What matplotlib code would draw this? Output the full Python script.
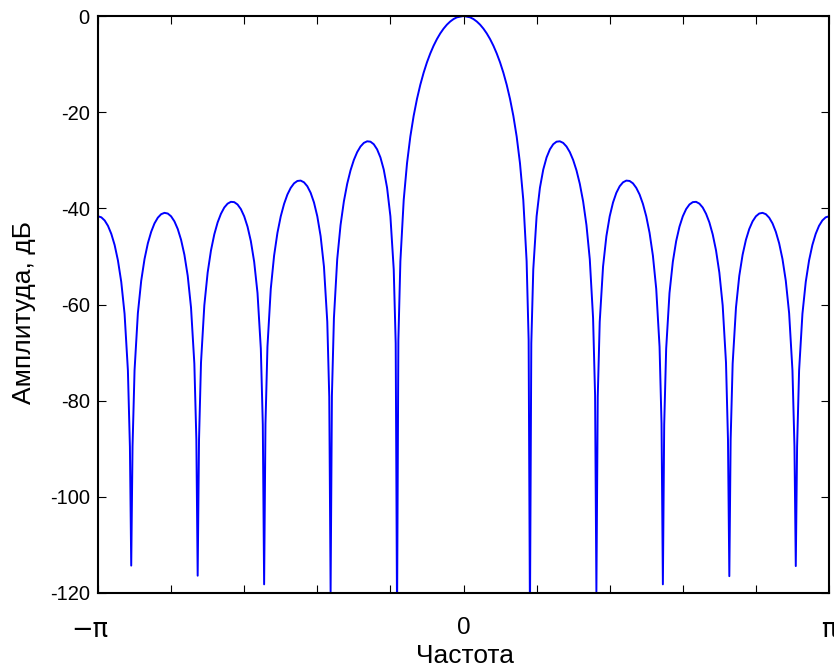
import matplotlib
matplotlib.use("Agg")
import matplotlib.pyplot as plt

# Frequency in units of pi, amplitude in dB
freq_neg = [-1.0000, -0.9818, -0.9636, -0.9455, -0.9273, -0.9182, -0.9127, -0.9091,
            -0.9055, -0.9000, -0.8909, -0.8727, -0.8545, -0.8364, -0.8182, -0.8000,
            -0.7818, -0.7636, -0.7455, -0.7364, -0.7309, -0.7273, -0.7236, -0.7182,
            -0.7091, -0.6909, -0.6727, -0.6545, -0.6364, -0.6182, -0.6000, -0.5818,
            -0.5636, -0.5545, -0.5491, -0.5455, -0.5418, -0.5364, -0.5273, -0.5091,
            -0.4909, -0.4727, -0.4545, -0.4364, -0.4182, -0.4000, -0.3818, -0.3727,
            -0.3673, -0.3636, -0.3600, -0.3545, -0.3455, -0.3273, -0.3091, -0.2909,
            -0.2727, -0.2636, -0.2545, -0.2364, -0.2182, -0.2000, -0.1909, -0.1855,
            -0.1818, -0.1782, -0.1727, -0.1636, -0.1455, -0.1273, -0.1091, -0.0909,
            -0.0727, -0.0545, -0.0364, -0.0182]
amp_neg = [-41.66, -42.52, -45.31, -50.82, -61.94, -73.7, -89.6, -114.3,
           -89.5, -73.7, -61.80, -50.54, -44.88, -41.95, -40.94, -41.66,
           -44.30, -49.66, -60.63, -72.3, -88.1, -116.4, -88.1, -72.1,
           -60.18, -48.75, -42.93, -39.83, -38.65, -39.20, -41.66, -46.83,
           -57.61, -69.2, -85.0, -118.2, -84.8, -68.8, -56.75, -45.11,
           -39.08, -35.74, -34.31, -34.59, -36.77, -41.66, -52.12, -63.6,
           -79.2, -119.7, -78.9, -62.8, -50.58, -38.56, -32.10, -28.31,
           -26.39, -26.06, -26.14, -27.73, -31.94, -41.66, -52.7, -68.1,
           -125.0, -67.4, -51.0, -38.27, -25.09, -17.26, -11.80, -7.79,
           -4.80, -2.63, -1.15, -0.28]
freq_pos = [0.0000, 0.0182, 0.0364, 0.0545, 0.0727, 0.0909, 0.1091, 0.1273,
            0.1455, 0.1636, 0.1727, 0.1782, 0.1818, 0.1855, 0.1909, 0.2000,
            0.2182, 0.2364, 0.2545, 0.2636, 0.2727, 0.2909, 0.3091, 0.3273,
            0.3455, 0.3545, 0.3600, 0.3636, 0.3673, 0.3727, 0.3818, 0.4000,
            0.4182, 0.4364, 0.4545, 0.4727, 0.4909, 0.5091, 0.5273, 0.5364,
            0.5418, 0.5455, 0.5491, 0.5545, 0.5636, 0.5818, 0.6000, 0.6182,
            0.6364, 0.6545, 0.6727, 0.6909, 0.7091, 0.7182, 0.7236, 0.7273,
            0.7309, 0.7364, 0.7455, 0.7636, 0.7818, 0.8000, 0.8182, 0.8364,
            0.8545, 0.8727, 0.8909, 0.9000, 0.9055, 0.9091, 0.9127, 0.9182,
            0.9273, 0.9455, 0.9636, 0.9818, 1.0000]
amp_pos = [0.00, -0.28, -1.15, -2.63, -4.80, -7.79, -11.80, -17.26,
           -25.09, -38.27, -51.0, -67.4, -125.0, -68.1, -52.7, -41.66,
           -31.94, -27.73, -26.14, -26.06, -26.39, -28.31, -32.10, -38.56,
           -50.58, -62.8, -78.9, -119.7, -79.2, -63.6, -52.12, -41.66,
           -36.77, -34.59, -34.31, -35.74, -39.08, -45.11, -56.75, -68.8,
           -84.8, -118.2, -85.0, -69.2, -57.61, -46.83, -41.66, -39.20,
           -38.65, -39.83, -42.93, -48.75, -60.18, -72.1, -88.1, -116.5,
           -88.1, -72.3, -60.63, -49.66, -44.30, -41.66, -40.94, -41.95,
           -44.88, -50.54, -61.80, -73.7, -89.5, -114.4, -89.6, -73.7,
           -61.94, -50.82, -45.31, -42.52, -41.66]
# additional readings on the lobes (same on both sides)
freq_extra_pos = [0.0273, 0.0455, 0.0636, 0.0818, 0.1000, 0.1182, 0.1364, 0.1545,
                  0.2091, 0.2273, 0.2455, 0.2818, 0.3000, 0.3182, 0.3364,
                  0.3909, 0.4091, 0.4273, 0.4455, 0.4636, 0.4818, 0.5000, 0.5182,
                  0.5727, 0.5909, 0.6091, 0.6273, 0.6455, 0.6636, 0.6818, 0.7000,
                  0.7545, 0.7727, 0.7909, 0.8091, 0.8273, 0.8455, 0.8636, 0.8818,
                  0.9364, 0.9545, 0.9727, 0.9909]
freq_extra_neg = [-0.0273, -0.0455, -0.0636, -0.0818, -0.1000, -0.1182, -0.1364, -0.1545,
                  -0.2091, -0.2273, -0.2455, -0.2818, -0.3000, -0.3182, -0.3364,
                  -0.3909, -0.4091, -0.4273, -0.4455, -0.4636, -0.4818, -0.5000, -0.5182,
                  -0.5727, -0.5909, -0.6091, -0.6273, -0.6455, -0.6636, -0.6818, -0.7000,
                  -0.7545, -0.7727, -0.7909, -0.8091, -0.8273, -0.8455, -0.8636, -0.8818,
                  -0.9364, -0.9545, -0.9727, -0.9909]
amp_extra = [-0.64, -1.81, -3.62, -6.18, -9.64, -14.31, -20.78, -30.61,
             -35.72, -29.41, -26.67, -27.14, -29.94, -34.90, -43.48,
             -45.80, -38.78, -35.41, -34.23, -34.80, -37.13, -41.66, -49.84,
             -51.13, -43.81, -40.16, -38.71, -39.03, -41.13, -45.41, -53.37,
             -54.05, -46.55, -42.71, -41.08, -41.22, -43.14, -47.27, -55.07,
             -55.29, -47.63, -43.64, -41.87]

xtick_pos = [-1.0, -0.8, -0.6, -0.4, -0.2, 0.0, 0.2, 0.4, 0.6, 0.8, 1.0]
xtick_labels = ["", "", "", "", "", "0", "", "", "", "", "\u03c0"]
left_edge_label = "\u2212\u03c0"
ytick_pos = [0, -20, -40, -60, -80, -100, -120]
ytick_labels = ["0", "-20", "-40", "-60", "-80", "-100", "-120"]

plt.rcParams['font.family'] = ['Liberation Sans', 'DejaVu Sans']

pts = sorted(zip(freq_neg + freq_extra_neg + freq_pos + freq_extra_pos,
                 amp_neg + amp_extra + amp_pos + amp_extra))
xs = [p[0] for p in pts]
ys = [p[1] for p in pts]

fig = plt.figure(figsize=(8.34, 6.68), dpi=100)
W, H = 834, 668
left, right, top, bottom = 98, 829, 16, 593
ax = fig.add_axes([left / W, 1 - bottom / H, (right - left) / W, (bottom - top) / H])

ax.plot(xs, ys, color='#0000ff', linewidth=1.4)

ax.set_xlim(-1, 1)
ax.set_ylim(-120, 0)
ax.set_xticks(xtick_pos)
ax.set_xticklabels(xtick_labels, fontsize=17.5)
for lab in ax.get_xticklabels():
    if "\u03c0" in lab.get_text():
        lab.set_fontfamily('DejaVu Sans')
        lab.set_fontsize(18.5)
ax.set_yticks(ytick_pos)
ax.set_yticklabels(ytick_labels, fontsize=14.5)
ax.tick_params(axis='both', direction='in', length=5.8, width=0.8, top=True, right=True, colors='black')
ax.tick_params(axis='x', pad=17)
ax.tick_params(axis='y', pad=6)
for s in ax.spines.values():
    s.set_linewidth(1.5)
    s.set_color('black')

# label of the left end tick, slightly left of the tick as in the reference
ax.annotate(left_edge_label, xy=(xtick_pos[0], 0), xycoords=ax.get_xaxis_transform(),
            xytext=(-6.2, -17), textcoords='offset points', ha='center', va='top',
            fontsize=18.5, family='DejaVu Sans', annotation_clip=False)

fig.text(465 / W, 1 - 663 / H, "Частота", ha='center', va='baseline', fontsize=19)
fig.text(24.5 / W, 1 - 313 / H, "Амплитуда, дБ", ha='center', va='center', rotation=90, fontsize=19)

fig.savefig("out.png", dpi=100)
